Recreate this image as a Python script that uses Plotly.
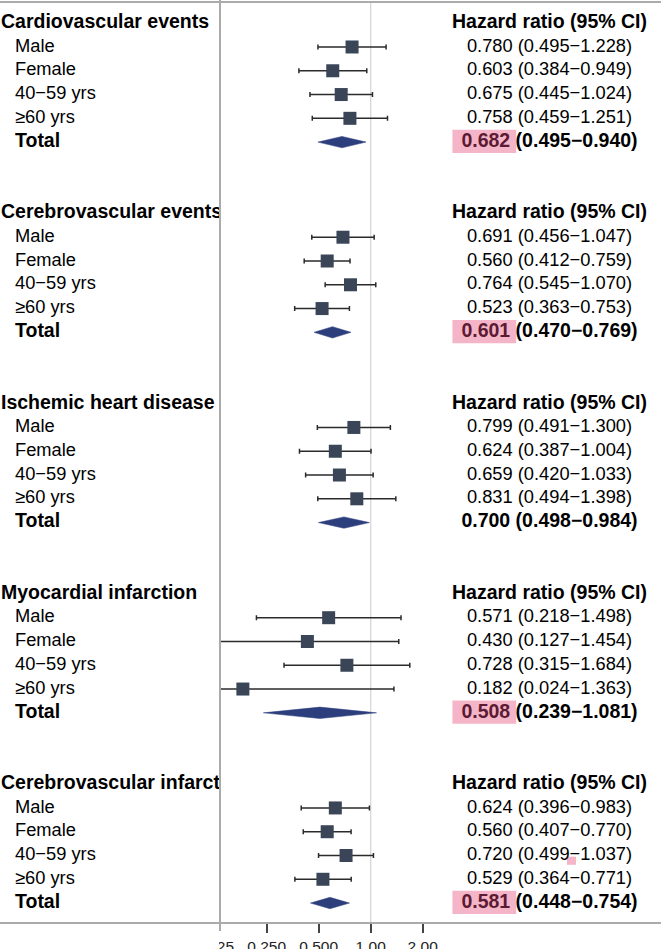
import math
import plotly.graph_objects as go

# ---------------- data ----------------
groups = ["Cardiovascular events", "Cerebrovascular events", "Ischemic heart disease",
          "Myocardial infarction", "Cerebrovascular infarction"]
subgroups = ["Male", "Female", "40\u221259 yrs", "\u226560 yrs", "Total"]
hr = [[0.780, 0.603, 0.675, 0.758, 0.682],
      [0.691, 0.560, 0.764, 0.523, 0.601],
      [0.799, 0.624, 0.659, 0.831, 0.700],
      [0.571, 0.430, 0.728, 0.182, 0.508],
      [0.624, 0.560, 0.720, 0.529, 0.581]]
lo = [[0.495, 0.384, 0.445, 0.459, 0.495],
      [0.456, 0.412, 0.545, 0.363, 0.470],
      [0.491, 0.387, 0.420, 0.494, 0.498],
      [0.218, 0.127, 0.315, 0.024, 0.239],
      [0.396, 0.407, 0.499, 0.364, 0.448]]
hi = [[1.228, 0.949, 1.024, 1.251, 0.940],
      [1.047, 0.759, 1.070, 0.753, 0.769],
      [1.300, 1.004, 1.033, 1.398, 0.984],
      [1.498, 1.454, 1.684, 1.363, 1.081],
      [0.983, 0.770, 1.037, 0.771, 0.754]]
highlight_total = [True, True, False, True, True]
ci_header = "Hazard ratio (95% CI)"
tick_values = [0.125, 0.25, 0.5, 1.0, 2.0]
tick_labels = ["0.125", "0.250", "0.500", "1.00", "2.00"]

# ---------------- layout constants ----------------
W, H = 661, 949
PT, PB = 2, 923            # plot area top / bottom (px)
X_SPLIT = 220              # left border of the forest panel (px)
ROW0, ROWH = 23.2, 23.78   # pixel centre of row 0, row height
PER_GROUP = 8
X_ONE, PX_DBL = 370.7, 52.0
TEXT_CX = 549.5
FONT = "Liberation Sans, Arial, sans-serif"
BOLD_SIZE, REG_SIZE = 19.5, 18.3
SQ_COLOR, DIA_COLOR, WHISK = "#3a4557", "#2c3e7c", "#2b2b2b"
PINK, MAROON = "#f5b5c8", "#5c1a33"
GRID = "#ababab"


def px_to_log(px):
    return (px - X_ONE) / PX_DBL * math.log10(2)


y_top = (PT - ROW0) / ROWH
y_bot = (PB - ROW0) / ROWH
DIA_H = 5.7 / ROWH

fig = go.Figure()

# left labels
lx, ly, lt, ls = [], [], [], []
ry, rt, rs = [], [], []
for g, name in enumerate(groups):
    base = g * PER_GROUP
    lx.append(1); ly.append(base); lt.append(f"<b>{name}</b>"); ls.append(BOLD_SIZE)
    ry.append(base); rt.append(f"<b>{ci_header}</b>"); rs.append(BOLD_SIZE)
    for i, sg in enumerate(subgroups):
        r = base + 1 + i
        is_total = sg == "Total"
        lx.append(15); ly.append(r)
        lt.append(f"<b>{sg}</b>" if is_total else sg)
        ls.append(BOLD_SIZE if is_total else REG_SIZE)
        num = f"{hr[g][i]:.3f}"
        ci = f"({lo[g][i]:.3f}\u2212{hi[g][i]:.3f})"
        if is_total:
            if highlight_total[g]:
                rt.append(f"<b><span style=\"color:{MAROON}\">{num}</span> {ci}</b>")
            else:
                rt.append(f"<b>{num} {ci}</b>")
            rs.append(BOLD_SIZE)
        else:
            rt.append(f"{num} {ci}")
            rs.append(REG_SIZE)
        ry.append(r)
rx = [TEXT_CX] * len(ry)

fig.add_trace(go.Scatter(x=lx, y=ly, text=lt, mode="text", textposition="middle right",
                         textfont=dict(family=FONT, size=ls, color="#000"),
                         cliponaxis=True, hoverinfo="skip", showlegend=False,
                         xaxis="x", yaxis="y"))

# squares with whiskers
sx, sy, ep, em = [], [], [], []
for g in range(len(groups)):
    for i in range(4):
        sx.append(hr[g][i]); sy.append(g * PER_GROUP + 1 + i)
        ep.append(hi[g][i] - hr[g][i]); em.append(hr[g][i] - lo[g][i])
fig.add_trace(go.Scatter(x=sx, y=sy, mode="markers",
                         marker=dict(symbol="square", size=13, color=SQ_COLOR, line=dict(width=0)),
                         error_x=dict(type="data", array=ep, arrayminus=em, symmetric=False,
                                      color=WHISK, thickness=1.5, width=2.5),
                         hoverinfo="skip", showlegend=False, xaxis="x2", yaxis="y"))

# diamonds for totals
for g in range(len(groups)):
    r = g * PER_GROUP + 5
    fig.add_trace(go.Scatter(x=[lo[g][4], hr[g][4], hi[g][4], hr[g][4], lo[g][4]],
                             y=[r, r - DIA_H, r, r + DIA_H, r],
                             mode="lines", fill="toself", fillcolor=DIA_COLOR,
                             line=dict(color=DIA_COLOR, width=0.5),
                             hoverinfo="skip", showlegend=False, xaxis="x2", yaxis="y"))

# right-hand text column
fig.add_trace(go.Scatter(x=rx, y=ry, text=rt, mode="text", textposition="middle center",
                         textfont=dict(family=FONT, size=rs, color="#000"),
                         cliponaxis=False, hoverinfo="skip", showlegend=False,
                         xaxis="x3", yaxis="y"))

# invisible anchor trace for the tick-label axis
fig.add_trace(go.Scatter(x=[1.0], y=[y_bot + 5], mode="markers", marker=dict(opacity=0),
                         hoverinfo="skip", showlegend=False, xaxis="x4", yaxis="y"))


def width_em(s):
    w = {".": 0.278, " ": 0.278, "(": 0.333, ")": 0.333, "\u2212": 0.584}
    return sum(w.get(c, 0.556) for c in s)


shapes = []
# highlight boxes behind total HR values
for g in range(len(groups)):
    if not highlight_total[g]:
        continue
    r = g * PER_GROUP + 5
    num = f"{hr[g][4]:.3f}"
    full = f"{num} ({lo[g][4]:.3f}\u2212{hi[g][4]:.3f})"
    start = TEXT_CX - width_em(full) * BOLD_SIZE / 2
    end = start + width_em(num) * BOLD_SIZE
    shapes.append(dict(type="rect", xref="x3", yref="y", x0=start - 9, x1=end + 6,
                       y0=r - 0.52, y1=r + 0.46, fillcolor=PINK, line=dict(width=0),
                       layer="below"))
# small pink mark (artifact in last group)
r_art = 4 * PER_GROUP + 3
shapes.append(dict(type="rect", xref="x3", yref="y", x0=567, x1=576,
                   y0=r_art + 0.05, y1=r_art + 0.39, fillcolor=PINK, line=dict(width=0),
                   layer="below"))
# reference line at HR = 1
shapes.append(dict(type="line", xref="x2", yref="paper", x0=1, x1=1, y0=0, y1=1,
                   line=dict(color="#d4d4d4", width=1.2), layer="below"))
# white cover hiding left part of tick labels
pb = PB - PT
shapes.append(dict(type="rect", xref="paper", yref="paper", x0=-0.01, x1=(X_SPLIT - 1) / W,
                   y0=-0.2, y1=-0.6 / pb, fillcolor="white",
                   line=dict(width=0), layer="above"))
# frame lines
shapes.append(dict(type="line", xref="paper", yref="paper", x0=0, x1=1, y0=1, y1=1,
                   line=dict(color=GRID, width=2), layer="above"))
shapes.append(dict(type="line", xref="paper", yref="paper", x0=0, x1=1, y0=0, y1=0,
                   line=dict(color=GRID, width=2), layer="above"))
shapes.append(dict(type="line", xref="paper", yref="paper", x0=X_SPLIT / W, x1=X_SPLIT / W,
                   y0=-8 / pb, y1=1 + PT / pb, line=dict(color=GRID, width=2), layer="above"))

fig.update_layout(
    width=W, height=H, autosize=False,
    margin=dict(l=0, r=0, t=PT, b=H - PB, pad=0, autoexpand=False),
    paper_bgcolor="white", plot_bgcolor="rgba(0,0,0,0)",
    showlegend=False,
    xaxis=dict(domain=[0, X_SPLIT / W], range=[0, X_SPLIT], visible=False, fixedrange=True,
               automargin=False),
    xaxis2=dict(domain=[X_SPLIT / W, 1], type="log",
                range=[px_to_log(X_SPLIT), px_to_log(W)],
                showticklabels=False, ticks="", showgrid=False, zeroline=False,
                showline=False, anchor="y", fixedrange=True, automargin=False),
    xaxis3=dict(overlaying="x2", range=[X_SPLIT, W], visible=False, anchor="y",
                fixedrange=True, automargin=False),
    xaxis4=dict(domain=[150 / W, 1], type="log", range=[px_to_log(150), px_to_log(W)],
                anchor="y", tickmode="array", tickvals=tick_values, ticktext=tick_labels,
                ticks="outside", ticklen=9, tickwidth=1.5, tickcolor="#444",
                ticklabelstandoff=0, automargin=False,
                tickfont=dict(family=FONT, size=15.5, color="#222"),
                showgrid=False, zeroline=False, showline=False, fixedrange=True),
    yaxis=dict(range=[y_bot, y_top], visible=False, fixedrange=True, automargin=False),
    shapes=shapes,
)

fig.write_html("out.html",
               config={"responsive": False, "displayModeBar": False},
               post_script="document.body.style.margin='0px';document.body.style.overflow='hidden';")
